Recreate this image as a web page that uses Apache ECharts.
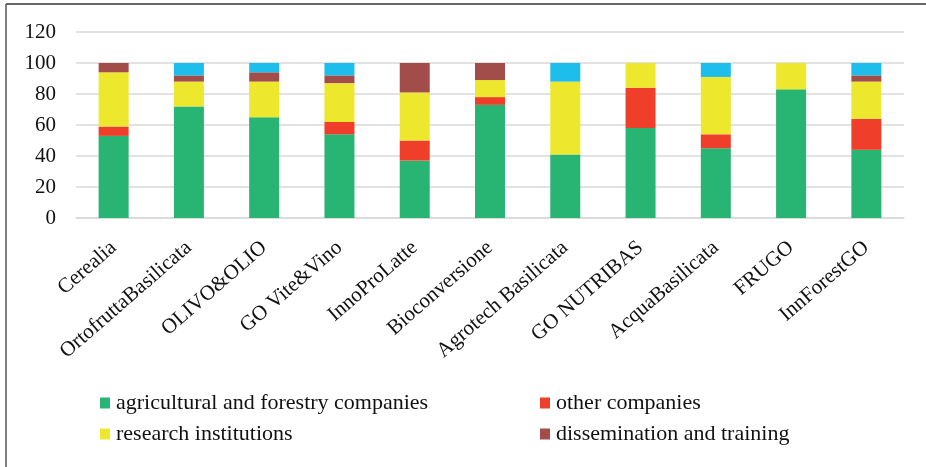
<!DOCTYPE html>
<html>
<head>
<meta charset="utf-8">
<script src="https://cdn.jsdelivr.net/npm/echarts@6/dist/echarts.min.js"></script>
<style>html,body{margin:0;padding:0;background:#fff;}#c{width:926px;height:467px;}</style>
</head>
<body>
<div id="c"></div>
<script>
const categories = ["Cerealia","OrtofruttaBasilicata","OLIVO&OLIO","GO Vite&Vino","InnoProLatte","Bioconversione","Agrotech Basilicata","GO NUTRIBAS","AcquaBasilicata","FRUGO","InnForestGO"];
const agricultural = [53, 72, 65, 54, 37, 73, 41, 58, 45, 83, 44];
const otherCompanies = [6, 0, 0, 8, 13, 5, 0, 26, 9, 0, 20];
const research = [35, 16, 23, 25, 31, 11, 47, 16, 37, 17, 24];
const dissemination = [6, 4, 6, 5, 19, 11, 0, 0, 0, 0, 4];
const otherPartners = [0, 8, 6, 8, 0, 0, 12, 0, 9, 0, 8];
const yTicks = [0, 20, 40, 60, 80, 100, 120];

const seriesNames = ["agricultural and forestry companies","other companies","research institutions","dissemination and training","other"];
const seriesData = [agricultural, otherCompanies, research, dissemination, otherPartners];
const colors = ["#28B473","#EF3F2B","#EDE82D","#A24D4A","#1DBEEC"];
const serif = "Liberation Serif";

const chart = echarts.init(document.getElementById('c'));
const legendPos = [[100,392],[540,392],[100,423],[540,423]];
chart.setOption({
  animation:false,
  color: colors,
  grid:{left:76,right:22,top:32,bottom:249,containLabel:false},
  legend: legendPos.map((p,i)=>({
    data:[seriesNames[i]], left:p[0], top:p[1], padding:0, itemWidth:10, itemHeight:11, itemGap:4,
    icon:'rect', selectedMode:false,
    textStyle:{fontFamily:serif,fontSize:22,lineHeight:22,color:'#111',padding:[0,0,0,1]}
  })),
  xAxis:{
    type:'category', data:categories,
    axisLine:{lineStyle:{color:'#d9d9d9',width:1.5}},
    axisTick:{show:false},
    axisLabel:{rotate:41,interval:0,margin:27,fontFamily:serif,fontSize:21,color:'#111'}
  },
  yAxis:{
    type:'value', min:0, max:120, interval:20,
    axisLine:{show:false}, axisTick:{show:false},
    splitLine:{lineStyle:{color:'#d9d9d9',width:1.5}},
    axisLabel:{fontFamily:serif,fontSize:21,color:'#111',margin:20,
      formatter:v=>yTicks.includes(v)?String(v):''}
  },
  series: seriesData.map((d,i)=>({
    name:seriesNames[i], type:'bar', stack:'total', data:d, barWidth:30,
    itemStyle:{color:colors[i]}
  })),
  graphic:[
    {type:'line',shape:{x1:6,y1:4,x2:926,y2:4},style:{stroke:'#333',lineWidth:1.5},silent:true},
    {type:'line',shape:{x1:6,y1:4,x2:6,y2:467},style:{stroke:'#555',lineWidth:1.5},silent:true}
  ]
});
</script>
</body>
</html>
